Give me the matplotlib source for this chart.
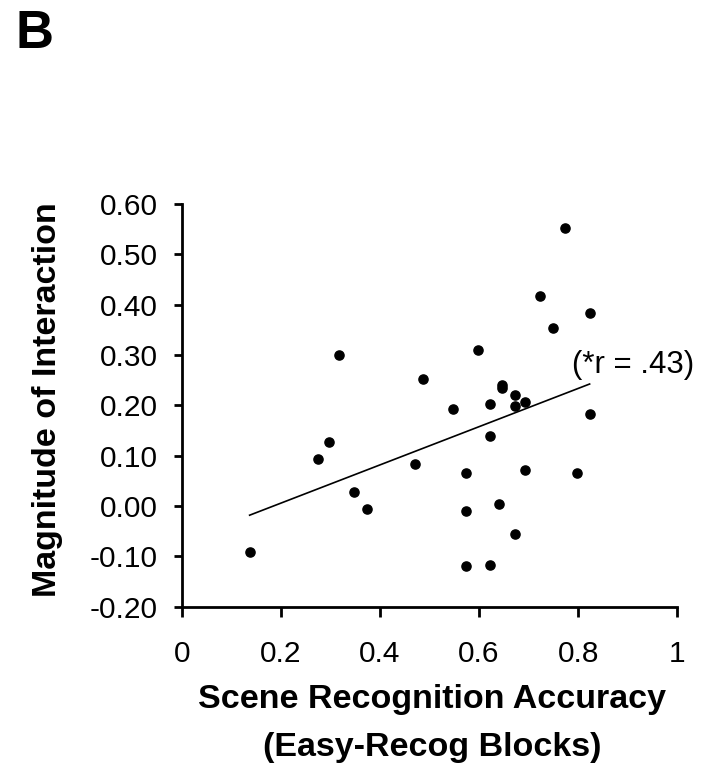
import numpy as np
import matplotlib.pyplot as plt

plt.rcParams['font.family'] = ['Liberation Sans', 'DejaVu Sans']

# scene recognition accuracy (easy-recog blocks)
accuracy = [0.137, 0.274, 0.298, 0.317, 0.347, 0.373, 0.471, 0.486, 0.547,
            0.573, 0.573, 0.573, 0.597, 0.623, 0.623, 0.623, 0.640, 0.647,
            0.647, 0.673, 0.673, 0.673, 0.693, 0.693, 0.722, 0.749, 0.773,
            0.798, 0.823, 0.823]
# magnitude of interaction
interaction = [-0.091, 0.093, 0.128, 0.299, 0.027, -0.006, 0.083, 0.252, 0.192,
               0.066, -0.009, -0.120, 0.309, 0.202, 0.140, -0.117, 0.004, 0.240,
               0.234, 0.220, 0.199, -0.055, 0.207, 0.071, 0.418, 0.354, 0.552,
               0.066, 0.384, 0.182]

xticks = [0, 0.2, 0.4, 0.6, 0.8, 1]
xticklabels = ['0', '0.2', '0.4', '0.6', '0.8', '1']
yticks = [-0.2, -0.1, 0.0, 0.1, 0.2, 0.3, 0.4, 0.5, 0.6]
yticklabels = ['-0.20', '-0.10', '0.00', '0.10', '0.20', '0.30', '0.40', '0.50', '0.60']
r_text = '(*r = .43)'

fig = plt.figure(figsize=(7.16, 7.75), dpi=100)
ax = fig.add_axes([0.2538, 0.2172, 0.6922, 0.5196])

ax.plot(accuracy, interaction, 'o', color='black', ms=6.6, clip_on=False)

# linear trend line
slope, icpt = np.polyfit(accuracy, interaction, 1)
xs = np.array([min(accuracy), max(accuracy)])
ax.plot(xs, slope * xs + icpt, color='black', lw=1.2)

ax.text(0.788, 0.264, r_text, fontsize=22.5, ha='left', va='baseline')

ax.set_xlim(0, 1)
ax.set_ylim(-0.2, 0.6)
ax.set_xticks(xticks)
ax.set_xticklabels(xticklabels)
ax.set_yticks(yticks)
ax.set_yticklabels(yticklabels)

for s in ['top', 'right']:
    ax.spines[s].set_visible(False)
for s in ['left', 'bottom']:
    ax.spines[s].set_linewidth(2)
ax.tick_params(axis='x', length=7, width=2, pad=17, labelsize=21.5)
ax.tick_params(axis='y', length=6, width=2, pad=11, labelsize=21.5)

ax.set_xlabel('Scene Recognition Accuracy\n(Easy-Recog Blocks)', fontsize=24.5,
              fontweight='bold', linespacing=1.7)
ax.xaxis.set_label_coords(0.505, -0.192)
ax.xaxis.label.set_va('top')
ax.set_ylabel('Magnitude of Interaction', fontsize=24.5, fontweight='bold')
ax.yaxis.set_label_coords(-0.27, 0.513)
ax.yaxis.label.set_va('center')

fig.text(0.022, 0.938, 'B', fontsize=38, fontweight='bold', ha='left', va='baseline')

plt.savefig('out.png', dpi=100)
